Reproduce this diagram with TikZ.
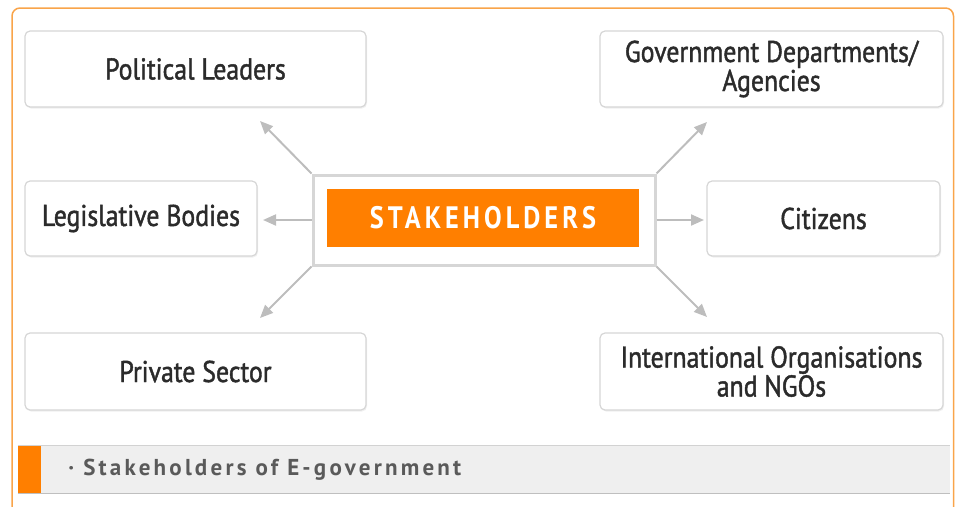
\documentclass[tikz,border=0pt]{standalone}
\usepackage{fontspec}
\setmainfont{PT Sans}
\newfontfamily\boxfont[FakeStretch=0.86,FakeBold=1.4]{PT Sans}
\newfontfamily\hubfont[FakeStretch=0.85,LetterSpace=13]{PT Sans}
\newfontfamily\capfont[LetterSpace=14]{PT Sans}
\usetikzlibrary{arrows.meta,positioning,shadows}
\definecolor{frameorange}{HTML}{F9A44A}
\definecolor{huborange}{HTML}{FF7F00}
\definecolor{boxgray}{HTML}{D6D6D6}
\definecolor{arrowgray}{HTML}{BDBDBD}
\definecolor{boxtext}{HTML}{2B2B2B}
\definecolor{capgray}{HTML}{EFEFEF}
\definecolor{captext}{HTML}{5A5A5A}

\begin{document}
\begin{tikzpicture}[x=1pt,y=-1pt]
 	\tikzstyle{actor}=[rectangle, rounded corners=5pt, draw=boxgray, line width=1.2pt, fill=white, inner sep=0pt, align=center, text=boxtext, font=\boxfont\fontsize{30}{29}\selectfont, drop shadow={opacity=0.12, shadow xshift=1pt, shadow yshift=-1.5pt}]
 	\tikzstyle{connect}=[-{Triangle[length=13pt,width=11pt]}, draw=arrowgray, line width=2pt]
 	\useasboundingbox (0,0) rectangle (955,506);
 	% outer frame
 	\draw[frameorange, line width=1.5pt, rounded corners=8pt] (12,530) -- (12,8) -- (953.5,8) -- (953.5,530);
 	% centre
 	\node[rectangle, draw=boxgray, line width=3pt, fill=white, minimum width=342pt, minimum height=90pt, inner sep=0pt] (hub) at (484,220) {};
 	\node[rectangle, fill=huborange, minimum width=312pt, minimum height=58pt, text=white, font=\hubfont\bfseries\fontsize{31}{31}\selectfont] (hubtext) at (483,218) {STAKEHOLDERS};
 	% stakeholders
 	\node[actor, minimum width=341pt, minimum height=76pt] (lead) at (195.5,69) {Political Leaders};
 	\node[actor, minimum width=343pt, minimum height=76pt] (govt) at (771.5,69) {Government Departments/\\Agencies};
 	\node[actor, minimum width=232pt, minimum height=75pt] (legis) at (141,218.5) {Legislative Bodies};
 	\node[actor, minimum width=233pt, minimum height=75pt] (citiz) at (823.5,218.5) {Citizens};
 	\node[actor, minimum width=341pt, minimum height=77pt] (priv) at (195.5,371.5) {Private Sector};
 	\node[actor, minimum width=343pt, minimum height=77pt] (intl) at (771.5,371.5) {International Organisations\\and NGOs};
 	\coordinate (tLead) at (260,121);
 	\coordinate (tLegis) at (263,220);
 	\coordinate (tPriv) at (260,318);
 	\coordinate (tGovt) at (707,122);
 	\coordinate (tCitiz) at (704,220);
 	\coordinate (tIntl) at (707,317);
 	\path (hub.north west) edge [connect] (tLead)
 	(hub.west) edge [connect] (tLegis)
 	(hub.south west) edge [connect] (tPriv)
 	(hub.north east) edge [connect] (tGovt)
 	(hub.east) edge [connect] (tCitiz)
 	(hub.south east) edge [connect] (tIntl);
 	% caption
 	\node[rectangle, fill=capgray, minimum width=932pt, minimum height=47pt, inner sep=0pt] (capbar) at (484,469.5) {};
 	\draw[gray!35, line width=1pt] (capbar.north west) -- (capbar.north east);
 	\draw[gray!50, line width=1.2pt] (capbar.south west) -- (capbar.south east);
 	\node[rectangle, fill=huborange, minimum width=23pt, minimum height=47pt, inner sep=0pt] (capmark) at (29.5,469.5) {};
 	\node[inner sep=0pt, anchor=west, text=captext, font=\capfont\bfseries\fontsize{23}{23}\selectfont] (captitle) [right=27pt of capmark] {·\ Stakeholders of E-government};
\end{tikzpicture}
\end{document}
